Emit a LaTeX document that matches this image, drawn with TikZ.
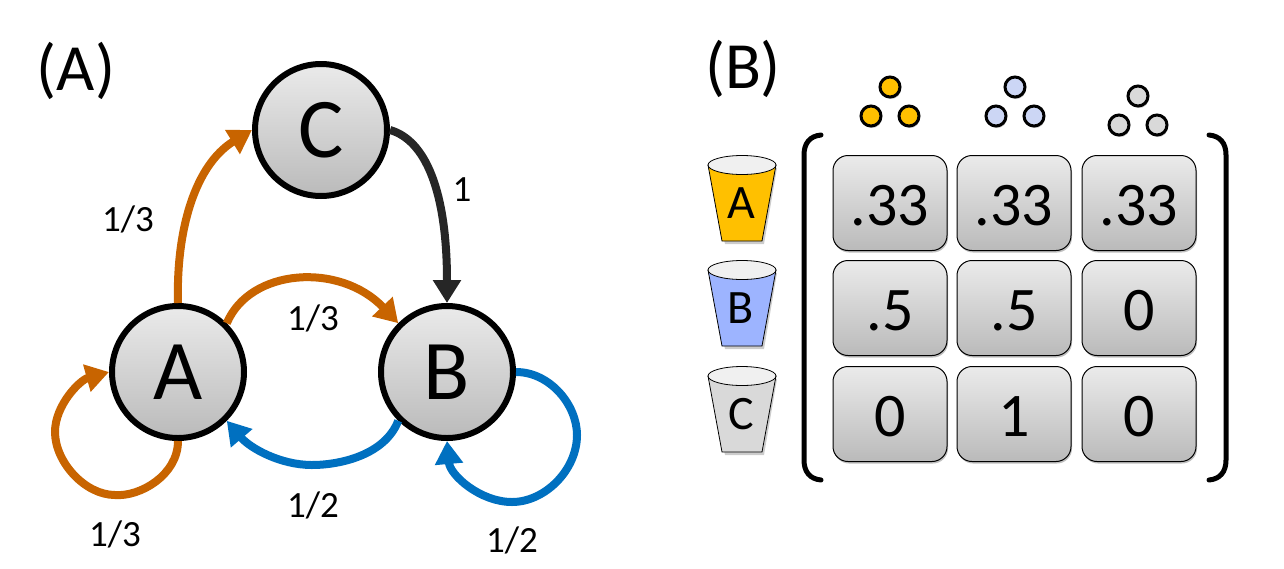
\documentclass[tikz,border=0pt]{standalone}
\usepackage{fontspec}
\setmainfont{Carlito}
\usetikzlibrary{arrows.meta, shadows}

\definecolor{edgeorange}{HTML}{C86400}
\definecolor{edgeblue}{HTML}{0070C0}
\definecolor{edgedark}{HTML}{262626}
\definecolor{cupyellow}{HTML}{FFC000}
\definecolor{cupblue}{HTML}{9DB4FF}
\definecolor{cupgrey}{HTML}{D9D9D9}
\definecolor{dotblue}{HTML}{CCD6F5}

\begin{document}
\begin{tikzpicture}[
    x=1pt, y=-1pt,
    >={Triangle[length=23pt, width=27pt]}, % Default arrow tip
    softshadow/.style={drop shadow={shadow xshift=1pt, shadow yshift=-2pt, fill=black, opacity=0.25}},
    state/.style={circle, draw=black, line width=6pt, minimum size=132pt, inner sep=0pt,
        top color=black!8, bottom color=black!27, softshadow, font=\fontsize{85}{85}\selectfont},
    cell/.style={rectangle, rounded corners=15pt, draw=black, line width=1pt, minimum width=114pt,
        minimum height=95pt, inner sep=0pt, text height=46pt, text depth=2pt,
        top color=black!8, bottom color=black!27, softshadow, font=\fontsize{62}{62}\selectfont},
    edge/.style={line width=8pt, ->},
    weight/.style={font=\fontsize{37}{37}\selectfont, inner sep=0pt},
    panel/.style={font=\fontsize{66}{66}\selectfont, inner sep=0pt},
    ball/.style={circle, draw=black, line width=3pt, minimum size=20pt, inner sep=0pt, softshadow},
    cuplabel/.style={font=\fontsize{48}{48}\selectfont, inner sep=0pt},
    bracket/.style={line width=5pt, line cap=round}
]
\useasboundingbox (0,0) rectangle (1284,568);

% Panel titles
\node[panel] (titleA) at (76,71) {(A)};
\node[panel] (titleB) at (743,69) {(B)};

% States
\node[state] (A) at (178,372) {A};
\node[state] (B) at (447,372) {B};
\node[state] (C) at (321,130) {C};

% Edges out of A
\draw[edge, edgeorange] (A.north) .. controls (176,230) and (195,165) .. (C.west);
\draw[edge, edgeorange] (A.north east) .. controls (250,268) and (340,262) .. (B.north west);
\draw[edge, edgeorange] (A.south) .. controls (178,475) and (140,497) .. (115,495)
    .. controls (85,495) and (55,462) .. (55,432) .. controls (55,405) and (80,380) .. (A.west);

% Edges out of B
\draw[edge, edgeblue] (B.south west) .. controls (385,455) and (340,465) .. (312,465)
    .. controls (280,465) and (250,448) .. (A.south east);
\draw[edge, edgeblue] (B.east) .. controls (550,372) and (577,405) .. (577,435)
    .. controls (577,470) and (545,502) .. (512,502) .. controls (480,502) and (450,475) .. (B.south);

% Edge out of C
\draw[edge, edgedark] (C.east) .. controls (425,140) and (447,190) .. (B.north);

% Edge weights
\node[weight] (wAC) at (128,219) {1/3};
\node[weight] (wAB) at (313,318) {1/3};
\node[weight] (wAA) at (115,534) {1/3};
\node[weight] (wBA) at (313,505) {1/2};
\node[weight] (wBB) at (512,540) {1/2};
\node[weight] (wCB) at (462,190) {1};

% Balls above the columns
\foreach \name/\cx/\cy/\col in {y/890/87/cupyellow, b/1015/87/dotblue, g/1138/96/cupgrey} {
    \node[ball, fill=\col] (\name top) at (\cx,\cy) {};
    \node[ball, fill=\col] (\name left) at (\cx-19,\cy+29) {};
    \node[ball, fill=\col] (\name right) at (\cx+19,\cy+29) {};
}

% Cups
\foreach \name/\cy/\col in {A/165/cupyellow, B/270/cupblue, C/376/cupgrey} {
    \fill[black, opacity=0.2] (709,\cy+3) -- (725,\cy+79) -- (764,\cy+79) -- (777,\cy+3) -- cycle;
    \draw[fill=\col, line width=0.8pt] (708,\cy) -- (722,\cy+76) -- (762,\cy+76) -- (776,\cy) -- cycle;
    \draw[fill=black!6, line width=0.8pt] (742,\cy) ellipse [x radius=34, y radius=9.5];
    \node[cuplabel] (cup\name) at (741,\cy+38) {\name};
}

% Matrix cells
\foreach \name/\cx/\cy/\val in {
    aa/890/203/.33, ab/1014/203/.33, ac/1139/203/.33,
    ba/890/308/.5,  bb/1014/308/.5,  bc/1139/308/0,
    ca/890/414/0,   cb/1014/414/1,   cc/1139/414/0} {
    \node[cell] (\name) at (\cx,\cy) {\val};
}

% Brackets
\draw[bracket] (821,135) .. controls (810,136) and (804,143) .. (804,155) -- (804,460)
    .. controls (804,472) and (810,479) .. (821,480);
\draw[bracket] (1209,135) .. controls (1220,136) and (1226,143) .. (1226,155) -- (1226,460)
    .. controls (1226,472) and (1220,479) .. (1209,480);

\end{tikzpicture}
\end{document}
